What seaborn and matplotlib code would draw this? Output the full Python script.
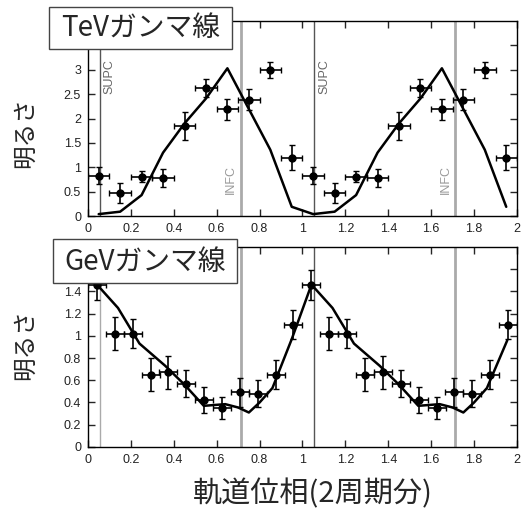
import numpy as np
import pandas as pd
import seaborn as sns
import matplotlib.pyplot as plt
from matplotlib.patches import Rectangle
from matplotlib.ticker import FuncFormatter

# TeV gamma-ray points, two orbital cycles
tev_phase = [0.05, 0.15, 0.25, 0.35, 0.45, 0.55, 0.65, 0.75, 0.85, 0.95,
             1.05, 1.15, 1.25, 1.35, 1.45, 1.55, 1.65, 1.75, 1.85, 1.95]
tev_flux = [0.83, 0.47, 0.81, 0.78, 1.84, 2.63, 2.19, 2.39, 3.00, 1.20,
            0.83, 0.47, 0.81, 0.78, 1.84, 2.63, 2.19, 2.39, 3.00, 1.20]
tev_err = [0.18, 0.21, 0.12, 0.18, 0.29, 0.18, 0.21, 0.22, 0.16, 0.25,
           0.18, 0.21, 0.12, 0.18, 0.29, 0.18, 0.21, 0.22, 0.16, 0.25]
tev_xerr = 0.05

# TeV model curve
tev_model_phase = [0.05, 0.15, 0.25, 0.35, 0.45, 0.55, 0.65, 0.85, 0.95,
                   1.05, 1.15, 1.25, 1.35, 1.45, 1.55, 1.65, 1.85, 1.95]
tev_model_flux = [0.04, 0.09, 0.43, 1.30, 1.90, 2.41, 3.03, 1.36, 0.19,
                  0.04, 0.09, 0.43, 1.30, 1.90, 2.41, 3.03, 1.36, 0.19]

# GeV gamma-ray points, two orbital cycles
gev_phase = [0.042, 0.125, 0.208, 0.292, 0.375, 0.458, 0.542, 0.625, 0.708, 0.792, 0.875, 0.958,
             1.042, 1.125, 1.208, 1.292, 1.375, 1.458, 1.542, 1.625, 1.708, 1.792, 1.875, 1.958]
gev_flux = [1.46, 1.02, 1.02, 0.65, 0.67, 0.57, 0.42, 0.35, 0.49, 0.48, 0.65, 1.10,
            1.46, 1.02, 1.02, 0.65, 0.67, 0.57, 0.42, 0.35, 0.49, 0.48, 0.65, 1.10]
gev_err = [0.135, 0.15, 0.13, 0.15, 0.15, 0.12, 0.115, 0.10, 0.13, 0.12, 0.13, 0.13,
           0.135, 0.15, 0.13, 0.15, 0.15, 0.12, 0.115, 0.10, 0.13, 0.12, 0.13, 0.13]
gev_xerr = 0.042

# GeV model curve
gev_model_phase = [0.042, 0.14, 0.24, 0.36, 0.45, 0.54, 0.64, 0.70, 0.75, 0.80, 0.86, 0.95,
                   1.042, 1.14, 1.24, 1.36, 1.45, 1.54, 1.64, 1.70, 1.75, 1.80, 1.86, 1.955]
gev_model_flux = [1.46, 1.25, 0.93, 0.73, 0.56, 0.37, 0.385, 0.355, 0.31, 0.40, 0.53, 0.97,
                  1.46, 1.25, 0.93, 0.73, 0.56, 0.37, 0.385, 0.355, 0.31, 0.40, 0.53, 0.96]

supc = [0.055, 1.055]
infc = [0.713, 1.713]

sns.set_style('ticks')
plt.rcParams['font.family'] = ['Liberation Sans', 'DejaVu Sans']
jp = ['Noto Sans CJK JP', 'DejaVu Sans']

fig = plt.figure(figsize=(5.3, 5.12), dpi=100)
ax1 = fig.add_axes([0.166, 0.578, 0.8094, 0.381])
ax2 = fig.add_axes([0.166, 0.127, 0.8094, 0.391])


def panel(ax, ph, fl, er, xer, mph, mfl, ymax, ystep, hidden):
    for s in supc:
        ax.axvline(s, color='#555555', lw=1, zorder=1)
    for i in infc:
        ax.axvline(i, color='#aaaaaa', lw=2, zorder=1)
    model = pd.DataFrame({'phase': mph, 'flux': mfl})
    sns.lineplot(data=model, x='phase', y='flux', ax=ax, color='black', lw=1.8,
                 sort=False, estimator=None, zorder=3)
    ax.errorbar(ph, fl, yerr=er, xerr=xer, fmt='o', color='black', ms=5,
                elinewidth=1.2, capsize=2, capthick=1, zorder=4)
    ax.set_xlim(0, 2)
    ax.set_ylim(0, ymax)
    ax.set_xticks(np.arange(0, 2.01, 0.2))
    ax.set_yticks(np.arange(0, ymax - 1e-6, ystep))
    ax.xaxis.set_major_formatter(FuncFormatter(lambda v, p: '%g' % round(v, 2)))
    # the top tick label sits under the title box in the original
    ax.yaxis.set_major_formatter(FuncFormatter(
        lambda v, p: '' if abs(v - hidden) < 1e-6 else '%g' % round(v, 2)))
    ax.tick_params(direction='in', top=True, right=True, length=5, width=1,
                   labelsize=9, labelcolor='#222222', pad=5)
    for sp in ax.spines.values():
        sp.set_linewidth(1)
        sp.set_color('black')
    ax.set_xlabel('')
    ax.set_ylabel('')


panel(ax1, tev_phase, tev_flux, tev_err, tev_xerr, tev_model_phase, tev_model_flux,
      4.0, 0.5, 3.5)
panel(ax2, gev_phase, gev_flux, gev_err, gev_xerr, gev_model_phase, gev_model_flux,
      1.8, 0.2, 1.6)
ax2.lines[0].set_color('#aaaaaa')

for s in supc:
    ax1.text(s + 0.018, 2.5, 'SUPC', rotation=90, ha='left', va='bottom',
             color='#666666', fontsize=9)
for i in infc:
    ax1.text(i - 0.018, 0.45, 'INFC', rotation=90, ha='right', va='bottom',
             color='#999999', fontsize=9)

# title boxes
fig.patches.append(Rectangle((0.0925, 0.9043), 0.345, 0.082, transform=fig.transFigure,
                             fc='white', ec='#444444', lw=1, zorder=5))
fig.text(0.265, 0.945, 'TeVガンマ線', family=jp, fontsize=20, ha='center', va='center', zorder=6)
fig.patches.append(Rectangle((0.1, 0.4473), 0.347, 0.086, transform=fig.transFigure,
                             fc='white', ec='#444444', lw=1, zorder=5))
fig.text(0.274, 0.489, 'GeVガンマ線', family=jp, fontsize=20, ha='center', va='center', zorder=6)

fig.text(0.047, 0.742, '明るさ', family=jp, fontsize=17, rotation=90, ha='center', va='center')
fig.text(0.047, 0.328, '明るさ', family=jp, fontsize=17, rotation=90, ha='center', va='center')
fig.text(0.591, 0.035, '軌道位相(2周期分)', family=jp, fontsize=21, ha='center', va='center')

fig.savefig('out.png', dpi=100)
